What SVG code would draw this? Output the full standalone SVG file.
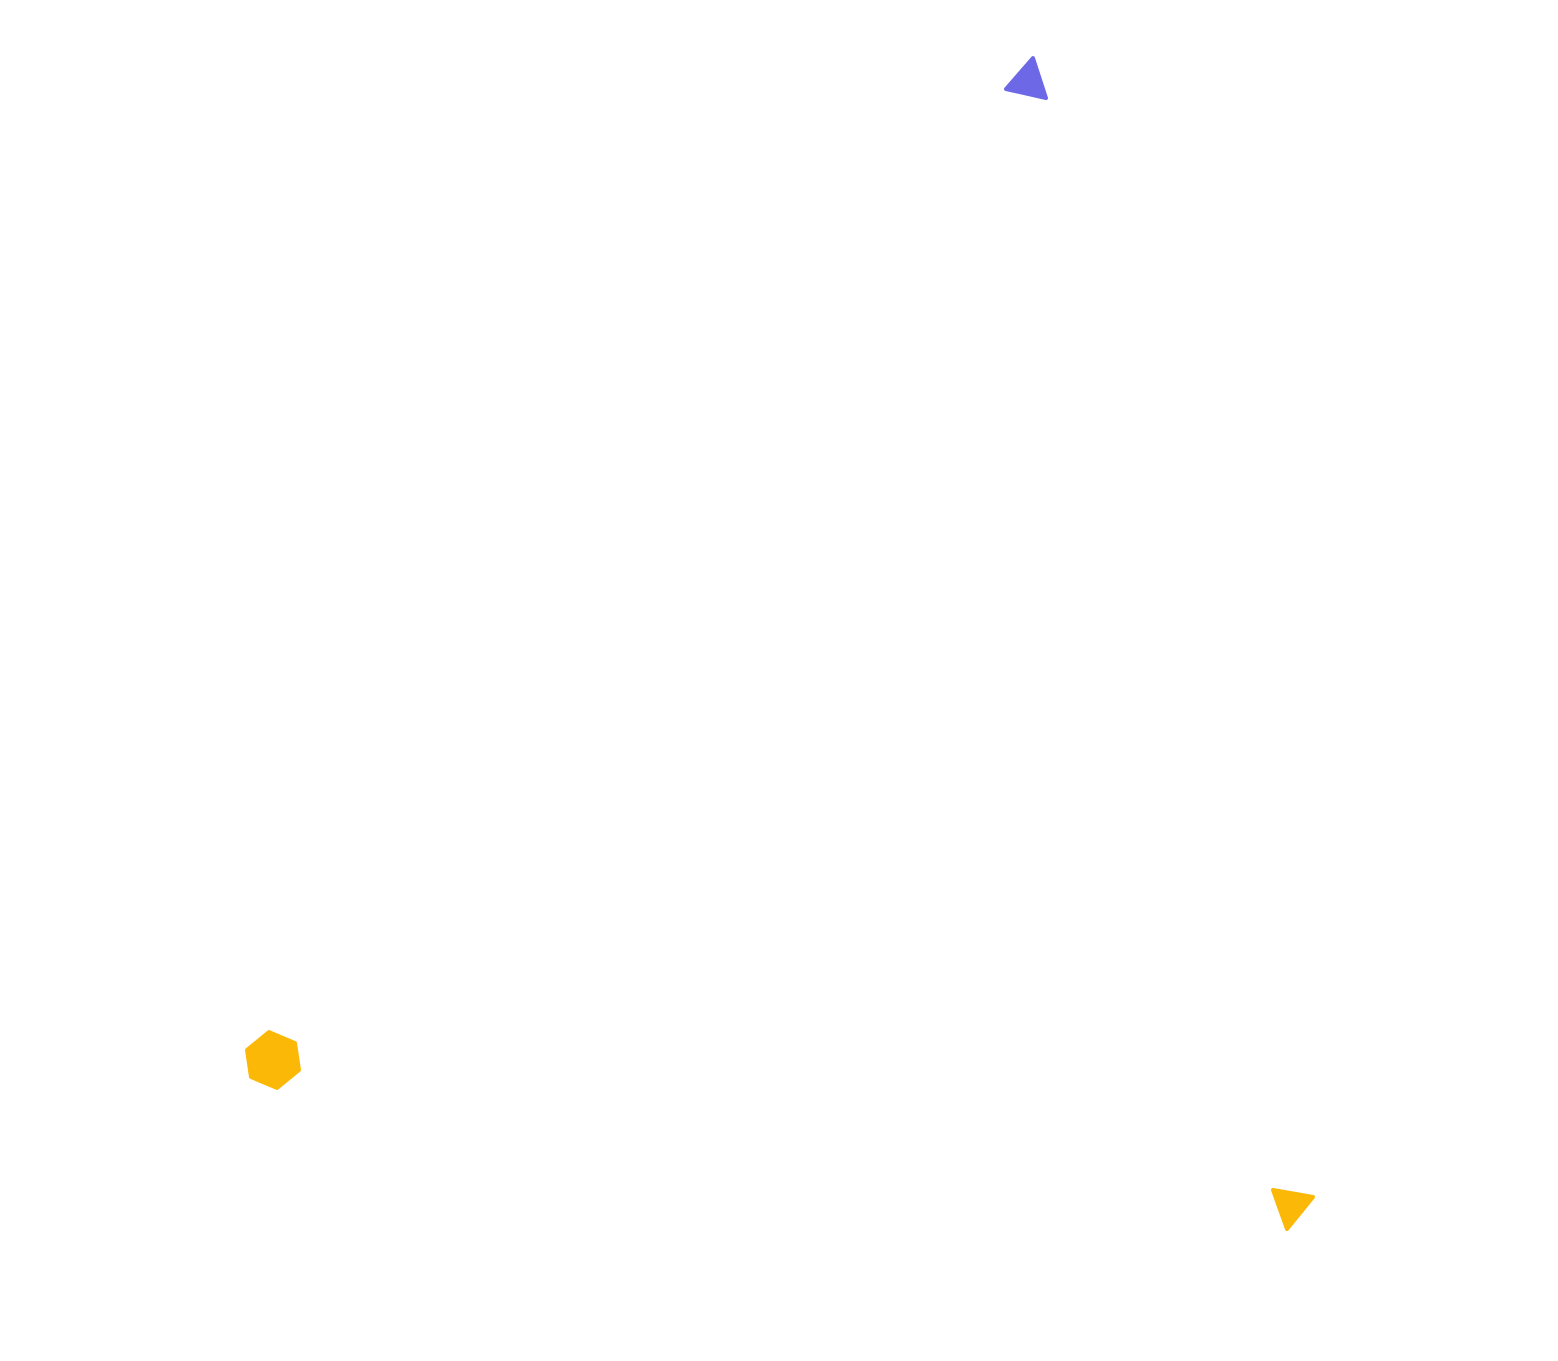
<svg xmlns="http://www.w3.org/2000/svg" width="1558" height="1361" viewBox="0 0 1558 1361">
<style>.s{stroke-linejoin:round;stroke-width:4}.b{fill:#6C68E6;stroke:#6C68E6}.y{fill:#FBB806;stroke:#FBB806}</style>
<rect width="1558" height="1361" fill="#fff"/>
<polygon class="s b" points="1033,58 1046,98 1006,89"/>
<polygon class="s y" points="269,1032 295,1043 299,1070 277,1088 251,1077 247,1050"/>
<polygon class="s y" points="1273,1190 1313,1197 1287,1229"/>
</svg>
